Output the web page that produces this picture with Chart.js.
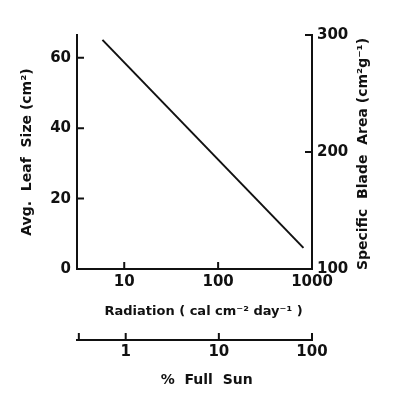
<!DOCTYPE html>
<html>
<head>
<meta charset="utf-8">
<script src="https://cdn.jsdelivr.net/npm/chart.js@4"></script>
<style>
  html, body { margin: 0; padding: 0; background: #fff; }
  #wrap { width: 394px; height: 400px; }
</style>
</head>
<body>
<div id="wrap"><canvas id="chart" width="394" height="400"></canvas></div>
<script>
// values
const radiation = [5.86, 811];          // cal cm-2 day-1
const leafSize = [65.1, 6.0];           // cm2
const radiationTicks = [10, 100, 1000];
const sunTicks = [1, 10, 100];
const leafTicks = [0, 20, 40, 60];
const bladeTicks = [100, 200, 300];
const radiationRange = [3.14, 1000];
const sunRange = [0.314, 100];
const leafRange = [0, 66.5];
const bladeRange = [100, 300];

const ink = '#111';
const fontFam = '"DejaVu Sans", sans-serif';
const tickFont = { family: fontFam, size: 15, weight: 'bold' };

const points = radiation.map((r, i) => ({ x: r, y: leafSize[i] }));

function fixedTicks(list) {
    return function (scale) {
        scale.ticks = list.map(v => ({ value: v }));
    };
}

const noGrid = { drawOnChartArea: false, drawTicks: false };
const axisBorder = { display: true, color: ink, width: 2 };

// tick marks point into the plot, drawn from each scale's own pixel mapping
const inwardTicks = {
    id: 'inwardTicks',
    afterDraw(chart) {
        const ctx = chart.ctx;
        ctx.save();
        ctx.strokeStyle = ink;
        ctx.lineWidth = 2;
        ctx.beginPath();
        ['x', 'x2', 'y', 'y2'].forEach(id => {
            const s = chart.scales[id];
            s.ticks.forEach(t => {
                const p = s.getPixelForValue(t.value);
                if (s.isHorizontal()) {
                    ctx.moveTo(p, s.top);
                    ctx.lineTo(p, s.top - 7);
                } else if (s.position === 'left') {
                    ctx.moveTo(s.right, p);
                    ctx.lineTo(s.right + 7, p);
                } else {
                    ctx.moveTo(s.left, p);
                    ctx.lineTo(s.left - 7, p);
                }
            });
        });
        ctx.stroke();
        ctx.restore();
    }
};

// right axis title reads bottom-to-top, so draw it ourselves
const rightTitle = {
    id: 'rightTitle',
    afterDraw(chart) {
        const area = chart.chartArea;
        const ctx = chart.ctx;
        ctx.save();
        ctx.translate(363, (area.top + area.bottom) / 2 + 2);
        ctx.rotate(-Math.PI / 2);
        ctx.fillStyle = ink;
        ctx.font = 'bold 14px ' + fontFam;
        ctx.textAlign = 'center';
        ctx.textBaseline = 'middle';
        ctx.fillText('Specific  Blade  Area (cm²g⁻¹)', 0, 0);
        ctx.restore();
    }
};

new Chart(document.getElementById('chart'), {
    type: 'scatter',
    data: {
        datasets: [{
            data: points,
            showLine: true,
            borderColor: ink,
            borderWidth: 2,
            pointRadius: 0,
            xAxisID: 'x',
            yAxisID: 'y'
        }]
    },
    options: {
        responsive: false,
        animation: false,
        layout: { padding: { top: 35, bottom: 0, left: 0, right: 0 } },
        plugins: { legend: { display: false }, tooltip: { enabled: false } },
        scales: {
            x: {
                type: 'logarithmic',
                position: 'bottom',
                weight: 0,
                min: radiationRange[0],
                max: radiationRange[1],
                afterBuildTicks: fixedTicks(radiationTicks),
                afterFit: s => { s.height = 71; },
                ticks: { color: ink, font: tickFont, padding: 4, maxRotation: 0,
                         callback: v => radiationTicks.includes(v) ? String(v) : '' },
                grid: noGrid,
                border: axisBorder,
                // leading spaces nudge the centred title right, as in the figure
                title: { display: true, text: '    Radiation ( cal cm⁻² day⁻¹ )', color: ink,
                         font: { family: fontFam, size: 13, weight: 'bold' }, padding: { top: 10, bottom: 20.2 } }
            },
            x2: {
                type: 'logarithmic',
                position: 'bottom',
                weight: 1,
                min: sunRange[0],
                max: sunRange[1],
                afterBuildTicks: fixedTicks([sunRange[0]].concat(sunTicks)),
                afterFit: s => { s.height = 60; },
                ticks: { color: ink, font: tickFont, padding: 3, maxRotation: 0,
                         callback: v => sunTicks.includes(v) ? String(v) : '' },
                grid: noGrid,
                border: axisBorder,
                title: { display: true, text: '     %  Full  Sun', color: ink,
                         font: { family: fontFam, size: 14, weight: 'bold' }, padding: { top: 10, bottom: 11.6 } }
            },
            y: {
                type: 'linear',
                position: 'left',
                min: leafRange[0],
                max: leafRange[1],
                afterBuildTicks: fixedTicks(leafTicks),
                afterFit: s => { s.width = 77; },
                ticks: { color: ink, font: tickFont, padding: 6 },
                grid: noGrid,
                border: axisBorder,
                title: { display: true, text: 'Avg.  Leaf  Size (cm²)', color: ink,
                         font: { family: fontFam, size: 14, weight: 'bold' }, padding: { top: 18.6, bottom: 10 } }
            },
            y2: {
                type: 'linear',
                position: 'right',
                min: bladeRange[0],
                max: bladeRange[1],
                afterBuildTicks: fixedTicks(bladeTicks),
                afterFit: s => { s.width = 82; },
                ticks: { color: ink, font: tickFont, padding: 5 },
                grid: noGrid,
                border: axisBorder
            }
        }
    },
    plugins: [inwardTicks, rightTitle]
});
</script>
</body>
</html>
